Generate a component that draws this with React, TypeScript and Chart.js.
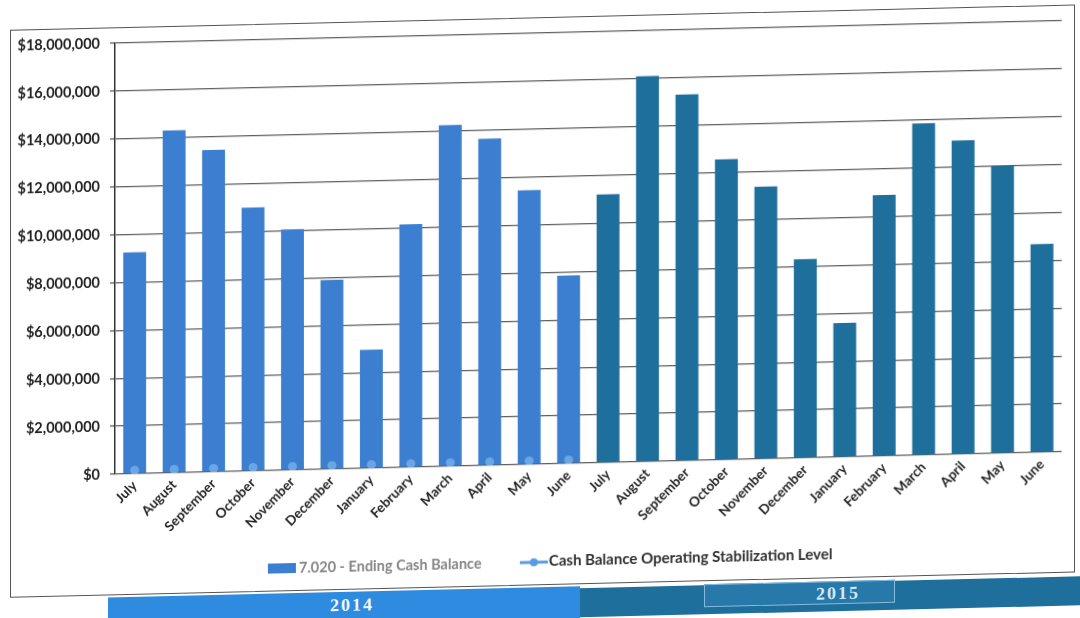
import React, { useEffect, useRef } from 'react';
import { Chart, registerables } from 'chart.js';

Chart.register(...registerables);

// ---------- data ----------
const months = ['July', 'August', 'September', 'October', 'November', 'December', 'January', 'February', 'March', 'April', 'May', 'June'];
const categories = [...months, ...months];

const endingCash2014 = [9250000, 14300000, 13450000, 11000000, 10050000, 7900000, 4950000, 10150000, 14250000, 13650000, 11450000, 7850000];
const endingCash2015 = [11200000, 16100000, 15300000, 12550000, 11370000, 8300000, 5600000, 10900000, 13850000, 13100000, 12000000, 8700000];

const stabilizationLevel = [
  150000, 150000, 150000, 150000, 150000, 150000, 150000, 150000, 150000, 150000, 150000, 150000,
  150000, 150000, 150000, 150000, 150000, 150000, 150000, 150000, 150000, 150000, 150000, 150000,
];

const seriesLabels = ['7.020 - Ending Cash Balance', 'Cash Balance Operating Stabilization Level'];
const yearLabels = ['2014', '2015'];

const yMin = 0;
const yMax = 18000000;
const yStep = 2000000;

// ---------- styles ----------
const BAR_2014 = '#3c7fd0';
const BAR_2015 = '#1f6f9c';
const LINE_COLOR = '#5b9be0';
const BAND_2014 = '#2e8be0';
const BAND_2015 = '#1f6f9c';
const FONT = 'Lato, "Open Sans", sans-serif';

const legendPlugin = {
  id: 'customLegend',
  afterDraw(chart: any) {
    const ctx = chart.ctx as CanvasRenderingContext2D;
    const ds = chart.data.datasets;
    ctx.save();
    const y = 575;
    ctx.textBaseline = 'middle';
    ctx.textAlign = 'left';
    // item 1 : bar
    ctx.fillStyle = BAR_2014;
    ctx.fillRect(268, 570, 28, 10);
    ctx.font = `bold 14.5px ${FONT}`;
    ctx.fillStyle = '#858585';
    ctx.fillText(ds[0].label, 299, y);
    // item 2 : line with marker
    ctx.strokeStyle = LINE_COLOR;
    ctx.lineWidth = 3;
    ctx.beginPath();
    ctx.moveTo(520, y);
    ctx.lineTo(548, y);
    ctx.stroke();
    ctx.fillStyle = LINE_COLOR;
    ctx.beginPath();
    ctx.arc(534, y, 4, 0, Math.PI * 2);
    ctx.fill();
    ctx.font = `bold 15px ${FONT}`;
    ctx.fillStyle = '#303030';
    ctx.fillText(ds[1].label, 549, y - 1);
    ctx.restore();
  },
};

function CashChart() {
  const ref = useRef<HTMLCanvasElement | null>(null);
  useEffect(() => {
    if (!ref.current) return;
    const barColors = [...endingCash2014.map(() => BAR_2014), ...endingCash2015.map(() => BAR_2015)];
    const pointColors = [...endingCash2014.map(() => '#6aa6e6'), ...endingCash2015.map(() => BAR_2015)];
    const chart = new Chart(ref.current, {
      type: 'bar',
      data: {
        labels: categories,
        datasets: [
          {
            type: 'bar',
            label: seriesLabels[0],
            data: [...endingCash2014, ...endingCash2015],
            backgroundColor: barColors,
            borderWidth: 0,
            barPercentage: 0.58,
            categoryPercentage: 1,
            order: 2,
          },
          {
            type: 'line',
            label: seriesLabels[1],
            data: stabilizationLevel,
            borderColor: LINE_COLOR,
            backgroundColor: LINE_COLOR,
            pointBackgroundColor: pointColors,
            pointBorderWidth: 0,
            pointRadius: 4.5,
            showLine: false,
            order: 1,
          } as any,
        ],
      },
      options: {
        animation: false,
        responsive: false,
        maintainAspectRatio: false,
        layout: { padding: { top: 46, left: 0, right: 18, bottom: 51 } },
        plugins: {
          legend: { display: false },
          tooltip: { enabled: false },
        },
        scales: {
          x: {
            grid: { display: false, drawTicks: false },
            border: { display: false },
            ticks: {
              autoSkip: false,
              maxRotation: 45,
              minRotation: 45,
              padding: 4,
              color: '#222',
              font: { family: FONT, size: 13.5, weight: 'bold' },
            },
            afterFit: (scale: any) => {
              scale.height = 90;
            },
          },
          y: {
            min: yMin,
            max: yMax,
            ticks: {
              stepSize: yStep,
              padding: 10,
              color: '#222',
              font: { family: FONT, size: 14.5, weight: 'bold' },
              callback: (v: any) => '$' + Number(v).toLocaleString('en-US'),
            },
            grid: { color: '#5f5f5f', lineWidth: 1.3, tickLength: 5, drawTicks: true },
            border: { display: true, color: '#333', width: 1.5 },
            afterFit: (scale: any) => {
              scale.width = 115;
            },
          },
        },
      },
      plugins: [legendPlugin],
    });
    return () => chart.destroy();
  }, []);
  return <canvas ref={ref} width={1080} height={618} style={{ position: 'absolute', left: 0, top: 0, width: 1080, height: 618 }} />;
}

export default function App() {
  const yearText: React.CSSProperties = {
    position: 'absolute',
    top: 603,
    transform: 'translateX(-50%)',
    fontFamily: '"Liberation Serif", "DejaVu Serif", serif',
    fontWeight: 'bold',
    fontSize: 18,
    letterSpacing: 2,
    lineHeight: '20px',
    whiteSpace: 'nowrap',
  };
  return (
    <div style={{ position: 'absolute', left: 0, top: 0, width: 1080, height: 618, overflow: 'hidden', background: '#fff' }}>
      <div style={{ position: 'absolute', left: 0, top: 0, width: 1080, height: 618, transform: 'skewY(-1.36deg)', transformOrigin: '0 0' }}>
        {/* frame */}
        <div style={{ position: 'absolute', left: 10, top: 30, width: 1065, height: 568, border: '1.5px solid #555', boxSizing: 'border-box' }} />
        {/* year band */}
        <div style={{ position: 'absolute', left: 108, top: 600, width: 472, height: 60, background: BAND_2014 }} />
        <div style={{ position: 'absolute', left: 580, top: 602, width: 520, height: 29, background: BAND_2015 }} />
        <div style={{ position: 'absolute', left: 704, top: 601, width: 191, height: 23, background: '#2679a8', border: '1px solid #86b9dc', boxSizing: 'border-box' }} />
        <div style={{ ...yearText, left: 352, color: '#f2f7fc' }}>{yearLabels[0]}</div>
        <div style={{ ...yearText, left: 838, color: '#d4e8f7' }}>{yearLabels[1]}</div>
        <CashChart />
      </div>
    </div>
  );
}
